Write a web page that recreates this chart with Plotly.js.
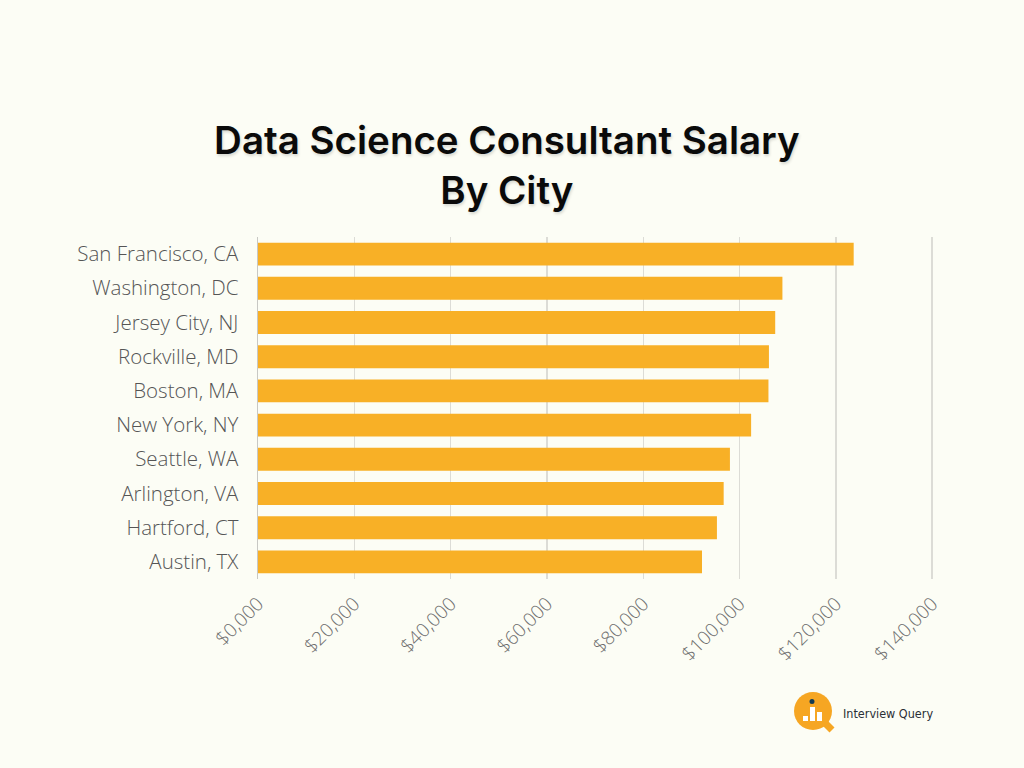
<!DOCTYPE html>
<html>
<head>
<meta charset="utf-8">
<script src="https://cdn.plot.ly/plotly-3.0.1.min.js"></script>
<style>
html,body{margin:0;padding:0;background:#fcfdf5;}
#chart{width:1024px;height:768px;}
</style>
</head>
<body>
<div id="chart"></div>
<script>
const cities = ["San Francisco, CA","Washington, DC","Jersey City, NJ","Rockville, MD","Boston, MA","New York, NY","Seattle, WA","Arlington, VA","Hartford, CT","Austin, TX"];
const salaries = [123700, 108900, 107400, 106100, 106000, 102400, 98000, 96700, 95300, 92200];
const tickValues = [0, 20000, 40000, 60000, 80000, 100000, 120000, 140000];
const tickLabels = ["$0,000","$20,000","$40,000","$60,000","$80,000","$100,000","$120,000","$140,000"];

const trace = {
  type: "bar",
  orientation: "h",
  y: cities,
  x: salaries,
  marker: {color: "#f8b026"},
  hoverinfo: "x+y"
};

const ML = 258, MR = 87, MT = 237, MB = 189;
const layout = {
  width: 1024,
  height: 768,
  paper_bgcolor: "#fcfdf5",
  plot_bgcolor: "#fcfdf5",
  margin: {l: ML, r: MR, t: MT, b: MB},
  bargap: 0.33,
  showlegend: false,
  title: {
    text: "Data Science Consultant Salary<br>By City",
    x: 0.495, xanchor: "center", xref: "container",
    y: 0.800, yanchor: "middle", yref: "container",
    font: {family: "Inter, 'Open Sans', sans-serif", size: 38.5, color: "#0a0a0a", weight: 600, shadow: "1px 2px 3px rgba(0,0,0,0.15)"}
  },
  xaxis: {
    range: [0, 141000],
    tickvals: tickValues,
    ticktext: tickLabels,
    tickangle: -45,
    showgrid: true,
    gridcolor: "#dcdcd6",
    gridwidth: 1.5,
    zeroline: false,
    showline: false,
    ticks: "",
    ticklabelstandoff: 9,
    tickfont: {family: "'Open Sans', sans-serif", size: 19, color: "#6e6e6e", weight: 300},
    fixedrange: true
  },
  yaxis: {
    autorange: "reversed",
    showgrid: false,
    zeroline: false,
    showline: true,
    linecolor: "#c8c8c4",
    linewidth: 1.5,
    ticks: "",
    ticklabelstandoff: 14,
    tickfont: {family: "'Open Sans', sans-serif", size: 20.5, color: "#555555", weight: 300},
    fixedrange: true
  },
  shapes: [],
  annotations: []
};

// Interview Query logo (decorative, placed in paper pixels)
const W = 1024 - ML - MR, H = 768 - MT - MB;
function px(xp){ return (xp - ML) / W; }
function py(yp){ return (768 - MB - yp) / H; }
layout.shapes = [
  {type: "line", xref: "paper", yref: "paper", x0: px(822), y0: py(720), x1: px(832), y1: py(730),
   line: {color: "#f6a623", width: 7}},
  {type: "circle", xref: "paper", yref: "paper", x0: px(794), y0: py(692), x1: px(832), y1: py(730),
   fillcolor: "#f6a623", line: {width: 0}},
  {type: "rect", xref: "paper", yref: "paper", x0: px(803), y0: py(716), x1: px(808), y1: py(721),
   fillcolor: "#ffffff", line: {width: 0}},
  {type: "rect", xref: "paper", yref: "paper", x0: px(810), y0: py(707), x1: px(815), y1: py(721),
   fillcolor: "#ffffff", line: {width: 0}},
  {type: "rect", xref: "paper", yref: "paper", x0: px(817), y0: py(712), x1: px(822), y1: py(721),
   fillcolor: "#ffffff", line: {width: 0}},
  {type: "circle", xref: "paper", yref: "paper", x0: px(809.5), y0: py(699), x1: px(814.5), y1: py(704),
   fillcolor: "#123a52", line: {width: 0}}
];
layout.annotations = [
  {text: "Interview Query", xref: "paper", yref: "paper", x: px(841), y: py(713),
   xanchor: "left", yanchor: "middle", showarrow: false,
   font: {family: "'DejaVu Sans Condensed', 'Liberation Sans Narrow', sans-serif", size: 12.5, color: "#2a2f36"}}
];

Plotly.newPlot("chart", [trace], layout, {displayModeBar: false, staticPlot: true});
</script>
</body>
</html>
